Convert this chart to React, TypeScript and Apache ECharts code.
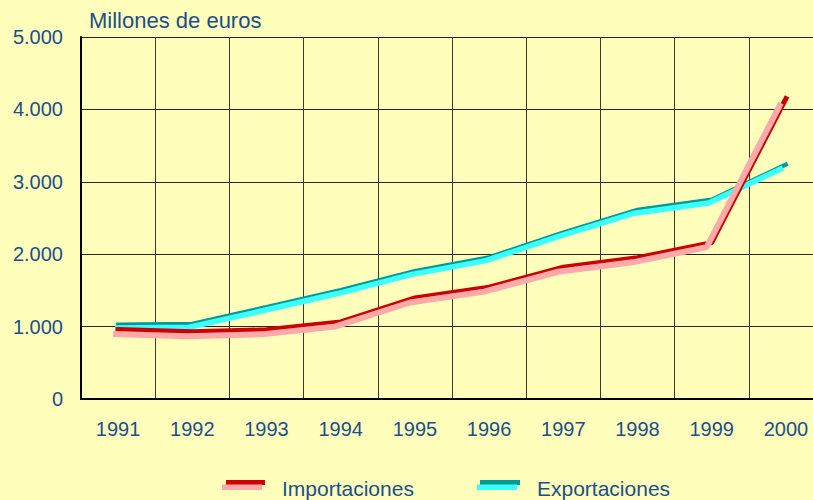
import React, { useEffect, useRef } from "react";
import * as echarts from "echarts";

const years = ["1991", "1992", "1993", "1994", "1995", "1996", "1997", "1998", "1999", "2000"];
const importaciones = [960, 930, 955, 1065, 1395, 1545, 1820, 1950, 2160, 4150];
const exportaciones = [1030, 1040, 1270, 1505, 1770, 1960, 2300, 2615, 2755, 3240];
const yTicks = [0, 1000, 2000, 3000, 4000, 5000];

const BG = "#FFFFBB";
const TXT = "#1B4E8C";
const FONT = "'Liberation Sans', Arial, sans-serif";

export default function App() {
  const ref = useRef<HTMLDivElement>(null);
  useEffect(() => {
    if (!ref.current) return;
    const chart = echarts.init(ref.current, undefined, { renderer: "svg" });
    const fmt = (v: number) => (v === 0 ? "0" : `${v / 1000}.000`);
    const mkX = (gridIndex: number, show: boolean) => ({
      type: "category",
      gridIndex,
      data: years,
      boundaryGap: true,
      show,
      axisLine: { show, lineStyle: { color: "#000", width: 2 } },
      axisTick: { show: false },
      axisLabel: { show, color: TXT, fontSize: 20, fontFamily: FONT, margin: 20, interval: 0 },
      splitLine: { show, interval: 0, lineStyle: { color: "#3a3a26", width: 1 } },
    });
    const mkY = (gridIndex: number, show: boolean) => ({
      type: "value",
      gridIndex,
      min: yTicks[0],
      max: yTicks[yTicks.length - 1],
      interval: 1000,
      show,
      axisLine: { show, lineStyle: { color: "#000", width: 2 } },
      axisTick: { show: false },
      axisLabel: { show, color: TXT, fontSize: 20, fontFamily: FONT, margin: 18, formatter: fmt },
      splitLine: { show, lineStyle: { color: "#262616", width: 1 } },
    });
    const base = { left: 81, top: 37, right: -10, bottom: 101 };
    const shifted = (dx: number, dy: number) => ({
      left: base.left + dx,
      top: base.top + dy,
      right: base.right - dx,
      bottom: base.bottom - dy,
      outerBoundsMode: "none",
      containLabel: false,
    });
    chart.setOption({
      animation: false,
      backgroundColor: BG,
      grid: [
        { ...base, outerBoundsMode: "none", containLabel: false },
        shifted(-5, 4.5),
        shifted(-3, 3.5),
      ],
      xAxis: [mkX(0, true), mkX(1, false), mkX(2, false)],
      yAxis: [mkY(0, true), mkY(1, false), mkY(2, false)],
      series: [
        {
          name: "Exportaciones",
          type: "line",
          xAxisIndex: 0,
          yAxisIndex: 0,
          data: exportaciones,
          symbol: "none",
          lineStyle: { color: "#009999", width: 4, cap: "square" },
          z: 3,
        },
        {
          name: "Exportaciones (sombra)",
          type: "line",
          xAxisIndex: 2,
          yAxisIndex: 2,
          data: exportaciones,
          symbol: "none",
          lineStyle: { color: "#3CFFFF", width: 5.5 },
          z: 4,
        },
        {
          name: "Importaciones",
          type: "line",
          xAxisIndex: 0,
          yAxisIndex: 0,
          data: importaciones,
          symbol: "none",
          lineStyle: { color: "#CC0000", width: 5, cap: "square" },
          z: 5,
        },
        {
          name: "Importaciones (sombra)",
          type: "line",
          xAxisIndex: 1,
          yAxisIndex: 1,
          data: importaciones,
          symbol: "none",
          lineStyle: { color: "#FFAAAA", width: 6 },
          z: 6,
        },
      ],
      graphic: [
        {
          type: "text",
          left: 89,
          top: 9,
          style: { text: "Millones de euros", fill: TXT, font: `22px ${FONT}` },
        },
        { type: "rect", shape: { x: 226, y: 480, width: 39, height: 5 }, style: { fill: "#CC0000" } },
        { type: "rect", shape: { x: 222, y: 484.5, width: 40, height: 5.5 }, style: { fill: "#FFAAAA" } },
        {
          type: "text",
          x: 282,
          y: 488,
          style: { text: "Importaciones", fill: TXT, font: `21px ${FONT}`, verticalAlign: "middle" },
        },
        { type: "rect", shape: { x: 480, y: 480, width: 40, height: 5 }, style: { fill: "#009999" } },
        { type: "rect", shape: { x: 477, y: 484.5, width: 40, height: 5.5 }, style: { fill: "#3CFFFF" } },
        {
          type: "text",
          x: 537,
          y: 488,
          style: { text: "Exportaciones", fill: TXT, font: `21px ${FONT}`, verticalAlign: "middle" },
        },
      ],
    });
    return () => chart.dispose();
  }, []);
  return (
    <div
      ref={ref}
      style={{ position: "fixed", left: 0, top: 0, width: 813, height: 500, background: BG }}
    />
  );
}
